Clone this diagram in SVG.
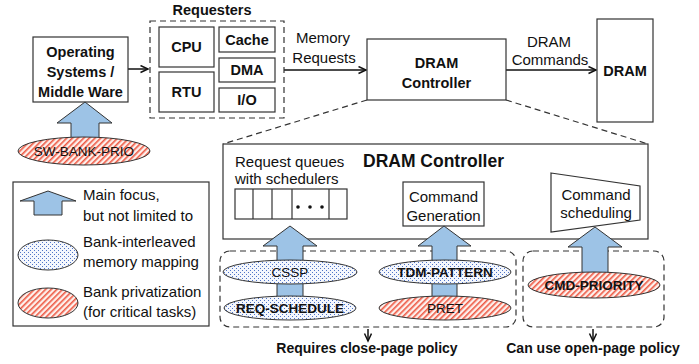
<svg xmlns="http://www.w3.org/2000/svg" width="699" height="364" viewBox="0 0 699 364">
<style>
text{font-family:"Liberation Sans",Arial,sans-serif;fill:#111;}
.b{font-weight:bold;}
.r{font-size:15px;}
.box{fill:#fff;stroke:#333;stroke-width:1.2;}
.dash{fill:none;stroke:#333;stroke-width:1.2;stroke-dasharray:6,4;}
.con{fill:none;stroke:#111;stroke-width:1.5;}
.blu{fill:#9dc3e6;stroke:#333;stroke-width:1;}
.dot{fill:url(#dots);stroke:#333;stroke-width:1;}
.hat{fill:url(#hatch);stroke:#333;stroke-width:1;}
.el{font-size:13.5px;}
</style>
<defs>
<pattern id="dots" width="4" height="4" patternUnits="userSpaceOnUse">
<rect width="4" height="4" fill="#f4f7fd"/>
<rect x="0" y="0" width="1" height="1" fill="#4f74c8"/>
<rect x="2" y="2" width="1" height="1" fill="#4f74c8"/>
</pattern>
<pattern id="hatch" width="4" height="4" patternUnits="userSpaceOnUse" patternTransform="rotate(45)">
<rect width="4" height="4" fill="#fdf0ec"/>
<rect x="0" y="0" width="1.6" height="4" fill="#ee5a45"/>
</pattern>
<marker id="ah" markerWidth="10" markerHeight="10" refX="8" refY="4" orient="auto" markerUnits="userSpaceOnUse">
<path d="M0.5,0.5 L8,4 L0.5,7.5" fill="none" stroke="#111" stroke-width="1.5"/>
</marker>
</defs>

<g id="connectors">
<line class="con" x1="128" y1="69" x2="148" y2="69" marker-end="url(#ah)"/>
<line class="con" x1="284" y1="70" x2="366" y2="70" marker-end="url(#ah)"/>
<line class="con" x1="506" y1="70" x2="596" y2="70" marker-end="url(#ah)"/>
<line class="dash" x1="367" y1="100" x2="223" y2="144"/>
<line class="dash" x1="506" y1="100" x2="648" y2="144"/>
<line class="con" x1="347" y1="203" x2="401" y2="203" marker-end="url(#ah)"/>
<line class="con" x1="484" y1="203" x2="549" y2="203" marker-end="url(#ah)"/>
<line class="con" x1="368" y1="329" x2="368" y2="341" marker-end="url(#ah)"/>
<line class="con" x1="593" y1="329" x2="593" y2="341" marker-end="url(#ah)"/>
</g>

<g id="os">
<rect class="box" x="33" y="37" width="95" height="65"/>
<text class="b" font-size="14.5" x="80.5" y="57" text-anchor="middle">Operating</text>
<text class="b" font-size="14.5" x="80.5" y="77" text-anchor="middle">Systems /</text>
<text class="b" font-size="14.5" x="80.5" y="97" text-anchor="middle">Middle Ware</text>
</g>

<g id="requesters">
<text class="b" font-size="14.5" x="212" y="15" text-anchor="middle">Requesters</text>
<rect class="dash" x="150" y="21" width="134" height="97"/>
<rect class="box" x="159" y="27" width="55" height="40"/>
<text class="b" font-size="14.5" x="186.5" y="52" text-anchor="middle">CPU</text>
<rect class="box" x="159" y="72" width="55" height="40"/>
<text class="b" font-size="14.5" x="186.5" y="97" text-anchor="middle">RTU</text>
<rect class="box" x="219" y="27" width="56" height="25"/>
<text class="b" font-size="14.5" x="247" y="44.5" text-anchor="middle">Cache</text>
<rect class="box" x="219" y="58" width="56" height="24"/>
<text class="b" font-size="14.5" x="247" y="75" text-anchor="middle">DMA</text>
<rect class="box" x="219" y="88" width="56" height="24"/>
<text class="b" font-size="14.5" x="247" y="105" text-anchor="middle">I/O</text>
</g>

<g id="memreq-label">
<text class="r" x="323" y="43" text-anchor="middle">Memory</text>
<text class="r" x="324" y="63" text-anchor="middle">Requests</text>
</g>

<g id="dram-controller">
<rect class="box" x="367" y="39" width="139" height="61"/>
<text class="b" font-size="14.5" x="436.5" y="68" text-anchor="middle">DRAM</text>
<text class="b" font-size="14.5" x="436.5" y="88" text-anchor="middle">Controller</text>
</g>

<g id="cmd-label">
<text class="r" x="549" y="47" text-anchor="middle">DRAM</text>
<text class="r" x="550" y="65" text-anchor="middle">Commands</text>
</g>

<g id="dram">
<rect class="box" x="597" y="19" width="56" height="103"/>
<text class="b" font-size="14.5" x="625" y="76" text-anchor="middle">DRAM</text>
</g>

<g id="sw-bank-prio">
<polygon class="blu" points="85,102 112,123 99,123 99,142 71,142 71,123 57,123"/>
<ellipse class="hat" cx="84" cy="151" rx="66" ry="14"/>
<text font-size="13.5" x="84" y="156" text-anchor="middle">SW-BANK-PRIO</text>
</g>

<g id="legend">
<rect class="box" x="13" y="182" width="196" height="144"/>
<polygon class="blu" points="48,191 76,201 62,201 62,215 34,215 34,201 20,201"/>
<ellipse class="dot" cx="48" cy="255" rx="30" ry="15"/>
<ellipse class="hat" cx="48" cy="303" rx="30" ry="15"/>
<text class="r" x="83" y="200">Main focus,</text>
<text class="r" x="83" y="221">but not limited to</text>
<text class="r" x="83" y="247">Bank-interleaved</text>
<text class="r" x="83" y="267">memory mapping</text>
<text class="r" x="83" y="297">Bank privatization</text>
<text class="r" x="83" y="317">(for critical tasks)</text>
</g>

<g id="inner-controller">
<rect class="box" x="223" y="144" width="425" height="95"/>
<text class="b" font-size="17.5" x="363" y="167">DRAM Controller</text>
<text class="r" x="235" y="167">Request queues</text>
<text class="r" x="235" y="184">with schedulers</text>
</g>

<g id="queue">
<rect class="box" x="235" y="189" width="112" height="30"/>
<line stroke="#333" stroke-width="1.2" x1="253" y1="189" x2="253" y2="219"/>
<line stroke="#333" stroke-width="1.2" x1="272" y1="189" x2="272" y2="219"/>
<line stroke="#333" stroke-width="1.2" x1="292" y1="189" x2="292" y2="219"/>
<line stroke="#333" stroke-width="1.2" x1="329" y1="189" x2="329" y2="219"/>
<circle cx="298" cy="207" r="1.8" fill="#111"/>
<circle cx="310" cy="207" r="1.8" fill="#111"/>
<circle cx="322" cy="207" r="1.8" fill="#111"/>
</g>

<g id="command-generation">
<rect class="box" x="403" y="182" width="81" height="44"/>
<text class="r" x="443.5" y="202" text-anchor="middle">Command</text>
<text class="r" x="443.5" y="221" text-anchor="middle">Generation</text>
</g>

<g id="command-scheduling">
<polygon class="box" points="551,173 640,186 640,220 551,232"/>
<text class="r" x="596" y="200" text-anchor="middle">Command</text>
<text class="r" x="596" y="218" text-anchor="middle">scheduling</text>
</g>

<g id="close-page-group">
<rect class="dash" x="220" y="251" width="296" height="76" rx="10"/>
<text class="b" font-size="14" x="367" y="353" text-anchor="middle">Requires close-page policy</text>
</g>

<g id="open-page-group">
<rect class="dash" x="523" y="251" width="141" height="76" rx="10"/>
<text class="b" font-size="14" x="593" y="353" text-anchor="middle">Can use open-page policy</text>
</g>

<g id="cssp-req">
<polygon class="blu" points="290,226 317,246 303,246 303,300 277,300 277,246 263,246"/>
<ellipse class="dot" cx="290" cy="272" rx="67" ry="12"/>
<text class="el" x="290" y="277" text-anchor="middle">CSSP</text>
<ellipse class="dot" cx="290" cy="308" rx="66" ry="12"/>
<text class="el b" x="290" y="313" text-anchor="middle">REQ-SCHEDULE</text>
</g>

<g id="tdm-pret">
<polygon class="blu" points="444,226 471,246 457,246 457,300 432,300 432,246 418,246"/>
<ellipse class="dot" cx="445" cy="272" rx="66" ry="12"/>
<text class="el b" x="445" y="277" text-anchor="middle">TDM-PATTERN</text>
<ellipse class="hat" cx="445" cy="308" rx="66" ry="12"/>
<text class="el" x="445" y="313" text-anchor="middle">PRET</text>
</g>

<g id="cmd-priority">
<polygon class="blu" points="595,227 622,247 608,247 608,280 582,280 582,247 568,247"/>
<ellipse class="hat" cx="594" cy="285" rx="66" ry="13"/>
<text class="el b" x="594" y="290" text-anchor="middle">CMD-PRIORITY</text>
</g>
</svg>
